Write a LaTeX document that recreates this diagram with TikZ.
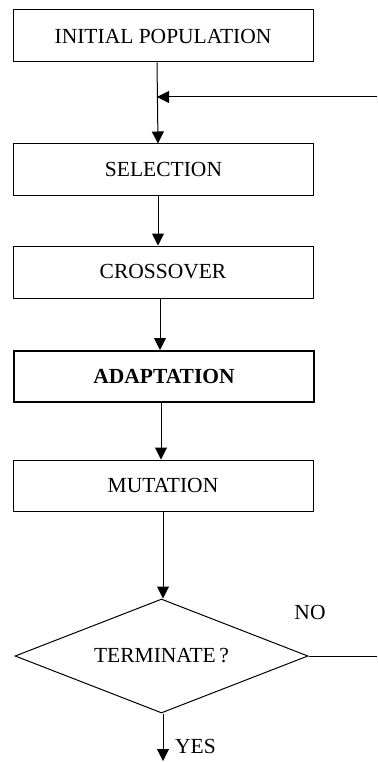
\documentclass[tikz,border=0pt]{standalone}
\usepackage{fontspec}
\setmainfont{Liberation Serif}
\usetikzlibrary{arrows.meta,shapes.geometric}
\begin{document}
\begin{tikzpicture}[x=1pt,y=1pt,
  every node/.style={font=\fontsize{21.5}{25}\selectfont},
  procbox/.style={draw,line width=1pt,minimum width=300pt,minimum height=52pt,inner sep=0pt},
  decbox/.style={draw,line width=1pt,diamond,aspect=2.57,minimum width=293pt,minimum height=114pt,inner sep=0pt},
  flow/.style={line width=1pt,-{Triangle[width=12pt,length=12pt]}},
  plain/.style={line width=1pt}]
\useasboundingbox (0,0) rectangle (377,-762);
\node[procbox] (init) at (163,-36) {INITIAL POPULATION};
\node[procbox,minimum height=51pt] (sel) at (163.5,-169.5) {SELECTION};
\node[procbox] (cross) at (163,-272) {CROSSOVER};
\node[procbox,minimum height=51pt,line width=2pt] (adapt) at (164,-376.5) {\textbf{ADAPTATION}};
\node[procbox,minimum height=51pt] (mut) at (163,-485.5) {MUTATION};
\node[decbox] (term) at (161.5,-656) {TERMINATE\,?};
\node (no) at (310,-612) {NO};
\coordinate (r1) at (377,-97);
\coordinate (j) at (157,-97);
\coordinate (r2) at (377,-656);
\coordinate (out) at (163,-761);
\node[anchor=west,inner sep=0pt] (yes) at (175,-746) {YES};
\draw[flow] ([xshift=-6pt]init.south) -- ([xshift=-5.5pt]sel.north);
\draw[flow] (r1) -- (j);
\draw[flow] ([xshift=-5.5pt]sel.south) -- ([xshift=-5pt]cross.north);
\draw[flow] ([xshift=-3pt]cross.south) -- ([xshift=-4pt]adapt.north);
\draw[flow] ([xshift=-3pt]adapt.south) -- ([xshift=-2pt]mut.north);
\draw[flow] (mut.south) -- ([xshift=1.5pt]term.north);
\draw[plain] (term.east) -- (r2);
\draw[flow] ([xshift=1.5pt]term.south) -- (out);
\end{tikzpicture}
\end{document}
